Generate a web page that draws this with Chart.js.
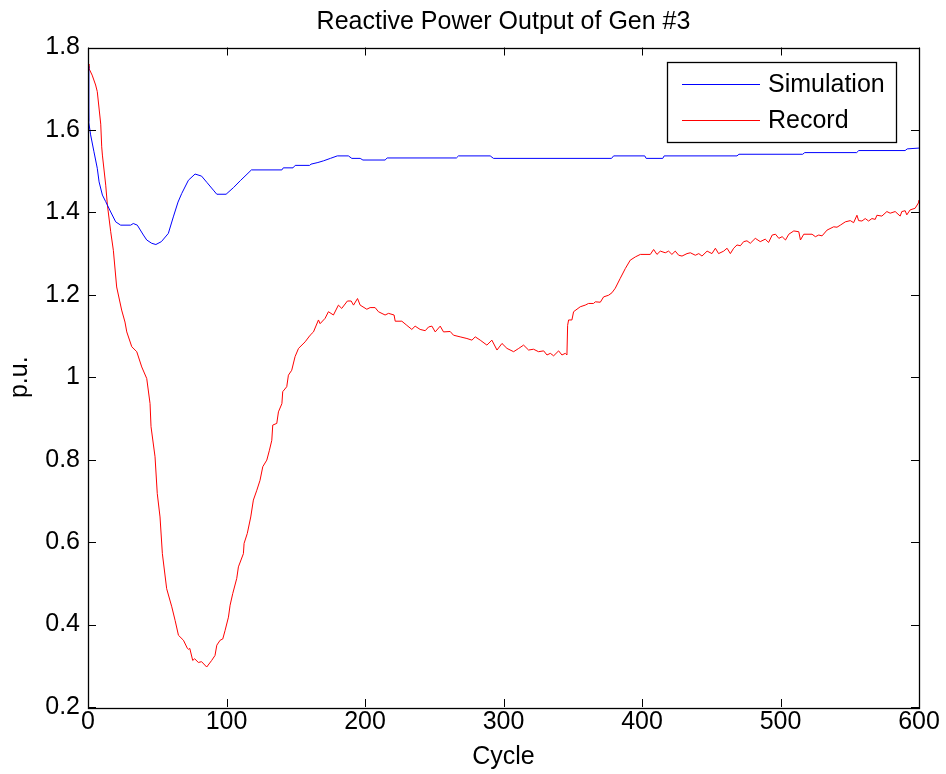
<!DOCTYPE html>
<html>
<head>
<meta charset="utf-8">
<script src="https://cdn.jsdelivr.net/npm/chart.js@4.4.1/dist/chart.umd.min.js"></script>
<style>
  html, body { margin: 0; padding: 0; background: #ffffff; }
  #wrap { width: 946px; height: 774px; }
</style>
</head>
<body>
<div id="wrap"><canvas id="c" width="946" height="774"></canvas></div>
<script>
// ---- Data ----
const chartTitle = "Reactive Power Output of Gen #3";
const xTitle = "Cycle";
const yTitle = "p.u.";
const seriesNames = ["Simulation", "Record"];
const seriesColors = ["#0000ff", "#ff0000"];

const xTicks = [0, 100, 200, 300, 400, 500, 600];
const yTicks = [0.2, 0.4, 0.6, 0.8, 1.0, 1.2, 1.4, 1.6, 1.8];

const simCycle = [
  0, 0.5, 1.9, 4.3, 6.7, 8, 10.4, 12.8, 16.4, 20,
  23.6, 30.8, 32.7, 35.6, 40, 42.4, 46, 49, 53, 58,
  61.6, 65, 67.7, 72.5, 77.3, 82, 86, 90.5, 93, 99.7,
  105, 110, 118, 140, 141, 148, 149.6, 160, 161, 166,
  170, 175, 180, 188, 190.5, 196.5, 198.5, 214.5, 216, 266,
  267.5, 290.4, 292.8, 378, 379.5, 402, 403, 415, 416, 468.6,
  470, 516, 517.5, 555, 556.5, 590, 591.5, 600
];
const simValue = [
  1.755, 1.62, 1.588, 1.547, 1.507, 1.474, 1.442, 1.426, 1.401, 1.377,
  1.369, 1.369, 1.373, 1.369, 1.345, 1.333, 1.325, 1.322, 1.329, 1.349,
  1.389, 1.425, 1.446, 1.478, 1.493, 1.488, 1.472, 1.454, 1.444, 1.444,
  1.46, 1.477, 1.503, 1.503, 1.508, 1.508, 1.514, 1.514, 1.517, 1.521,
  1.525, 1.531, 1.537, 1.537, 1.531, 1.531, 1.527, 1.527, 1.532, 1.532,
  1.537, 1.537, 1.531, 1.531, 1.537, 1.537, 1.531, 1.531, 1.537, 1.537,
  1.541, 1.541, 1.545, 1.545, 1.550, 1.550, 1.554, 1.556
];

const recordCycle = [
  0, 0.7, 3, 5.5, 6.7, 9.2, 9.9, 10.4, 12.8, 14,
  16.4, 18.3, 20.7, 24.3, 26.7, 28, 31.6, 35.2, 38.8, 42.4,
  44.8, 45.5, 48.4, 50, 52, 53.7, 56.8, 60.5, 62.9, 65.3,
  68.9, 71.8, 72.5, 73.5, 75.6, 77, 79.7, 82, 85.7, 89.3,
  91.7, 93, 95.4, 97.3, 99, 101.4, 102.6, 104.5, 107.4, 108.6,
  112.2, 112.7, 115, 117.5, 119.4, 121.9, 124.2, 126.2, 129.1, 131,
  132.7, 133.4, 136.3, 137.5, 140, 140.6, 143.5, 144.7, 147.1, 149.5,
  152, 156.8, 160.4, 162.8, 166.4, 167.6, 171.2, 173.6, 177.2, 180.8,
  183.2, 187.3, 190, 191.7, 194.6, 196.5, 201.3, 203.7, 207.3, 209.7,
  214.5, 217, 221, 221.8, 226.6, 230.2, 233.8, 236.2, 239.8, 243.5,
  245.9, 248.3, 250.7, 254.3, 256.7, 261.5, 263.9, 268.7, 273.6, 277.2,
  279.6, 283.2, 288, 291.6, 295.3, 298.9, 302.5, 307.3, 311, 314.5,
  318.1, 321.7, 325.3, 329, 331.4, 333.8, 336.2, 339.8, 342.2, 344.6,
  345.8, 346.3, 347, 349.4, 350.6, 355.4, 359, 361.4, 365, 366.3,
  369.9, 372.3, 375.9, 378.3, 380.7, 384.3, 388, 391.5, 395.2, 398.8,
  406, 408.4, 410.8, 413.2, 416.8, 419.2, 421.6, 424, 426.5, 428.9,
  432.5, 434.9, 438.5, 441, 443.3, 447, 450.5, 453, 455.3, 459,
  461.4, 463.8, 466.2, 468.6, 471, 473.4, 475.8, 478.2, 481.8, 485.4,
  489, 491.4, 494, 496.4, 498.8, 501.2, 503.6, 506, 509.6, 513.2,
  514.4, 516.8, 522.8, 525.2, 527.6, 530, 533.6, 538.4, 540.8, 543.2,
  546.8, 550.4, 552.8, 555.2, 556.4, 558.8, 561.2, 563.6, 566, 568.4,
  569.6, 573.2, 576.8, 579.2, 582.8, 586.4, 587.6, 590, 591.2, 593.6,
  597.2, 599.6, 600
];
const recordValue = [
  1.76, 1.749, 1.733, 1.709, 1.693, 1.614, 1.559, 1.539, 1.466, 1.418,
  1.353, 1.308, 1.219, 1.163, 1.134, 1.11, 1.074, 1.062, 1.025, 0.997,
  0.936, 0.880, 0.807, 0.718, 0.661, 0.572, 0.487, 0.443, 0.410, 0.374,
  0.362, 0.342, 0.34, 0.342, 0.313, 0.317, 0.308, 0.310, 0.297, 0.313,
  0.325, 0.35, 0.362, 0.365, 0.386, 0.418, 0.447, 0.475, 0.512, 0.540,
  0.572, 0.597, 0.621, 0.661, 0.702, 0.726, 0.750, 0.783, 0.799, 0.823,
  0.847, 0.884, 0.888, 0.916, 0.936, 0.965, 0.977, 1.005, 1.017, 1.050,
  1.070, 1.086, 1.102, 1.110, 1.139, 1.13, 1.143, 1.159, 1.151, 1.175,
  1.167, 1.185, 1.185, 1.175, 1.191, 1.175, 1.165, 1.169, 1.169, 1.159,
  1.151, 1.155, 1.151, 1.136, 1.136, 1.126, 1.116, 1.124, 1.116, 1.113,
  1.122, 1.124, 1.110, 1.124, 1.110, 1.111, 1.102, 1.098, 1.094, 1.090,
  1.098, 1.090, 1.078, 1.090, 1.066, 1.082, 1.070, 1.062, 1.070, 1.078,
  1.066, 1.068, 1.062, 1.064, 1.054, 1.058, 1.052, 1.064, 1.054, 1.058,
  1.054, 1.126, 1.139, 1.139, 1.159, 1.171, 1.175, 1.179, 1.179, 1.183,
  1.182, 1.195, 1.199, 1.205, 1.216, 1.240, 1.264, 1.284, 1.292, 1.298,
  1.298, 1.310, 1.298, 1.306, 1.302, 1.306, 1.298, 1.306, 1.296, 1.294,
  1.300, 1.302, 1.296, 1.300, 1.294, 1.306, 1.300, 1.313, 1.300, 1.306,
  1.313, 1.300, 1.313, 1.321, 1.319, 1.329, 1.331, 1.325, 1.337, 1.329,
  1.335, 1.327, 1.345, 1.347, 1.337, 1.341, 1.333, 1.347, 1.355, 1.353,
  1.333, 1.347, 1.347, 1.341, 1.345, 1.343, 1.357, 1.365, 1.364, 1.369,
  1.377, 1.38, 1.375, 1.393, 1.38, 1.379, 1.385, 1.379, 1.385, 1.383,
  1.393, 1.391, 1.402, 1.398, 1.402, 1.391, 1.402, 1.404, 1.394, 1.406,
  1.41, 1.423, 1.43
];

// ---- Build datasets from the arrays ----
function pairs(xs, ys) {
  const n = Math.min(xs.length, ys.length);
  const out = [];
  for (let i = 0; i < n; i++) out.push({ x: xs[i], y: ys[i] });
  return out;
}

const FONT = "'Liberation Sans', Arial, Helvetica, sans-serif";
const FS = 25;
Chart.defaults.color = '#000000';
Chart.defaults.font.family = FONT;
Chart.defaults.font.size = FS;

// Box around the plot with inward tick marks on all four sides
const boxTicks = {
  id: 'boxTicks',
  afterDatasetsDraw(chart) {
    const { ctx, chartArea: a, scales } = chart;
    const len = 8;
    ctx.save();
    ctx.strokeStyle = '#000000';
    ctx.lineWidth = 1;
    ctx.beginPath();
    scales.x.ticks.forEach(t => {
      const px = Math.round(scales.x.getPixelForValue(t.value)) + 0.5;
      ctx.moveTo(px, a.bottom); ctx.lineTo(px, a.bottom - len);
      ctx.moveTo(px, a.top); ctx.lineTo(px, a.top + len);
    });
    scales.y.ticks.forEach(t => {
      const py = Math.round(scales.y.getPixelForValue(t.value)) + 0.5;
      ctx.moveTo(a.left, py); ctx.lineTo(a.left + len, py);
      ctx.moveTo(a.right, py); ctx.lineTo(a.right - len, py);
    });
    ctx.stroke();
    ctx.lineWidth = 1.3;
    ctx.strokeRect(Math.round(a.left) + 0.5, Math.round(a.top) + 0.5,
                   Math.round(a.right - a.left), Math.round(a.bottom - a.top));
    ctx.restore();
  }
};

// MATLAB-style legend box in the upper right of the plot
const boxLegend = {
  id: 'boxLegend',
  afterDraw(chart) {
    const { ctx } = chart;
    const bx = 667, by = 62, bw = 229, bh = 80;
    ctx.save();
    ctx.fillStyle = '#ffffff';
    ctx.fillRect(bx, by, bw, bh);
    ctx.strokeStyle = '#000000';
    ctx.lineWidth = 1.3;
    ctx.strokeRect(bx + 0.5, by + 0.5, bw, bh);
    const rows = [84.5, 120.5];
    chart.data.datasets.forEach((ds, i) => {
      const y = rows[i];
      ctx.beginPath();
      ctx.strokeStyle = seriesColors[i];
      ctx.lineWidth = 1;
      ctx.moveTo(682, y);
      ctx.lineTo(760, y);
      ctx.stroke();
      ctx.closePath();
      ctx.fillStyle = '#000000';
      ctx.font = FS + 'px ' + FONT;
      ctx.textBaseline = 'middle';
      ctx.textAlign = 'left';
      ctx.fillText(seriesNames[i], 768, y + 1);
    });
    ctx.restore();
  }
};

const fmt = v => String(Number(Number(v).toFixed(1)));

new Chart(document.getElementById('c'), {
  type: 'line',
  data: {
    datasets: [
      {
        label: seriesNames[0],
        data: pairs(simCycle, simValue),
        borderColor: seriesColors[0],
        borderWidth: 1,
        pointRadius: 0,
        tension: 0,
        fill: false
      },
      {
        label: seriesNames[1],
        data: pairs(recordCycle, recordValue),
        borderColor: seriesColors[1],
        borderWidth: 1,
        pointRadius: 0,
        tension: 0,
        fill: false
      }
    ]
  },
  options: {
    responsive: false,
    animation: false,
    events: [],
    layout: { padding: { left: 0, right: 27, top: 0, bottom: 0 } },
    plugins: {
      legend: { display: false },
      tooltip: { enabled: false },
      title: {
        display: true,
        text: chartTitle,
        fullSize: false,
        color: '#000000',
        font: { size: FS, weight: 'normal', family: FONT, lineHeight: 1.2 },
        padding: { top: 7, bottom: 10.5 }
      }
    },
    scales: {
      x: {
        type: 'linear',
        min: xTicks[0],
        max: xTicks[xTicks.length - 1],
        afterBuildTicks: s => { s.ticks = xTicks.map(v => ({ value: v })); },
        afterFit: s => { s.height = 67; },
        grid: { display: false, drawTicks: false },
        border: { display: false },
        ticks: { padding: 0, color: '#000000', font: { size: FS }, maxRotation: 0, callback: v => fmt(v) },
        title: { display: true, text: xTitle, color: '#000000', font: { size: FS }, padding: { top: 2, bottom: 2 } }
      },
      y: {
        type: 'linear',
        min: yTicks[0],
        max: yTicks[yTicks.length - 1],
        afterBuildTicks: s => { s.ticks = yTicks.map(v => ({ value: v })); },
        afterFit: s => { s.width = 88; },
        grid: { display: false, drawTicks: false },
        border: { display: false },
        ticks: { padding: 8, color: '#000000', font: { size: FS }, callback: v => fmt(v) },
        title: { display: true, text: yTitle, color: '#000000', font: { size: FS }, padding: { top: 5, bottom: 5 } }
      }
    }
  },
  plugins: [boxTicks, boxLegend]
});
</script>
</body>
</html>
